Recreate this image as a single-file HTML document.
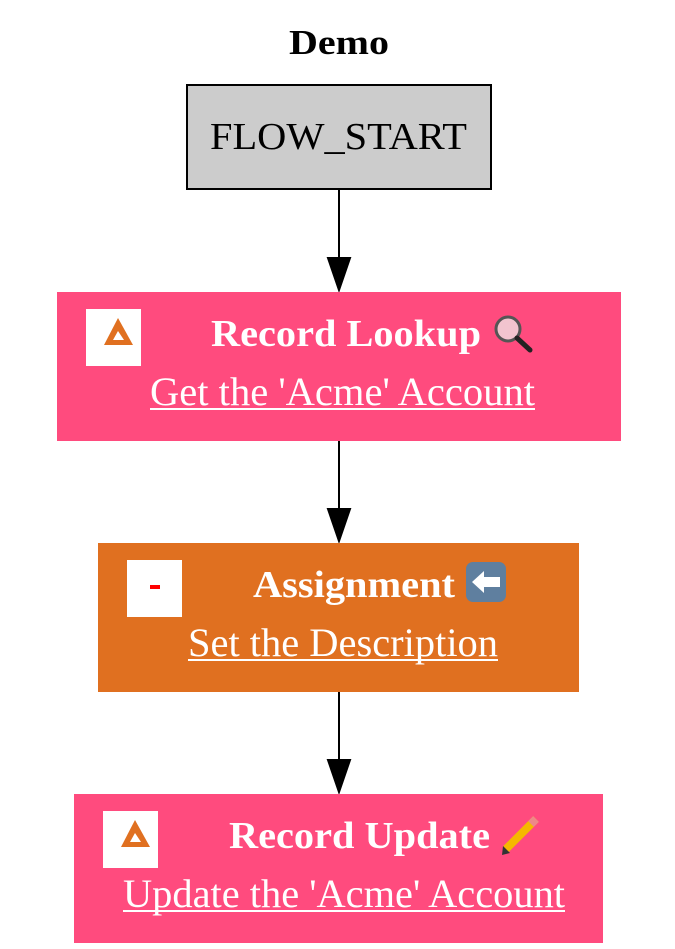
<!DOCTYPE html>
<html><head><meta charset="utf-8"><style>
html,body{margin:0;padding:0;background:#fff;}
svg{display:block;}
text{font-family:"Liberation Serif",serif;}
</style></head><body>
<svg width="675" height="949" viewBox="0 0 675 949" xmlns="http://www.w3.org/2000/svg">
<text x="339" y="54" font-size="35" font-weight="bold" text-anchor="middle" fill="#000" textLength="100" lengthAdjust="spacingAndGlyphs">Demo</text>
<rect x="187" y="85" width="304" height="104" fill="#cccccc" stroke="#000" stroke-width="2"/>
<text x="338.5" y="149" font-size="38" text-anchor="middle" textLength="257" lengthAdjust="spacingAndGlyphs" fill="#000">FLOW_START</text>

<line x1="339" y1="189" x2="339" y2="262" stroke="#000" stroke-width="2"/>
<polygon points="328,258 350,258 339,290" fill="#000" stroke="#000" stroke-width="2"/>
<line x1="339" y1="441" x2="339" y2="512" stroke="#000" stroke-width="2"/>
<polygon points="328,509 350,509 339,541" fill="#000" stroke="#000" stroke-width="2"/>
<line x1="339" y1="692" x2="339" y2="763" stroke="#000" stroke-width="2"/>
<polygon points="328,760 350,760 339,792" fill="#000" stroke="#000" stroke-width="2"/>

<rect x="57" y="292" width="564" height="149" fill="#ff4b7e"/>
<rect x="86" y="309" width="55" height="57" fill="#fff"/>
<polygon points="118,318 104,345 133,345" fill="#e07020"/>
<polygon points="118,331 113,340 124,340" fill="#fff"/>
<text x="211" y="346" font-size="38" font-weight="bold" fill="#fff" textLength="270" lengthAdjust="spacingAndGlyphs">Record Lookup</text>
<circle cx="508" cy="329" r="12" fill="#f2c4cf" stroke="#555" stroke-width="3"/>
<line x1="517" y1="338" x2="530" y2="350" stroke="#222" stroke-width="5" stroke-linecap="round"/>
<text x="150" y="405" font-size="40" fill="#fff" textLength="385" lengthAdjust="spacingAndGlyphs">Get the 'Acme' Account</text>
<rect x="150" y="408" width="385" height="2" fill="#fff"/>

<rect x="98" y="543" width="481" height="149" fill="#e07020"/>
<rect x="127" y="560" width="55" height="57" fill="#fff"/>
<rect x="150" y="585" width="10" height="4" fill="#f00"/>
<text x="253" y="597" font-size="38" font-weight="bold" fill="#fff" textLength="202" lengthAdjust="spacingAndGlyphs">Assignment</text>
<rect x="466" y="562" width="40" height="40" rx="7" fill="#5f7f9f"/>
<polygon points="472,582 484,571 484,577 500,577 500,587 484,587 484,593" fill="#fff"/>
<text x="188" y="656" font-size="40" fill="#fff" textLength="310" lengthAdjust="spacingAndGlyphs">Set the Description</text>
<rect x="188" y="659" width="310" height="2" fill="#fff"/>

<rect x="74" y="794" width="529" height="149" fill="#ff4b7e"/>
<rect x="103" y="811" width="55" height="57" fill="#fff"/>
<polygon points="135,820 121,847 150,847" fill="#e07020"/>
<polygon points="135,833 130,842 141,842" fill="#fff"/>
<text x="229" y="848" font-size="38" font-weight="bold" fill="#fff" textLength="261" lengthAdjust="spacingAndGlyphs">Record Update</text>
<line x1="536" y1="819" x2="506" y2="849" stroke="#f5b800" stroke-width="8"/>
<line x1="536" y1="819" x2="531" y2="824" stroke="#e88" stroke-width="8"/>
<polygon points="502,855 503,846 510,853" fill="#333"/>
<text x="123" y="907" font-size="40" fill="#fff" textLength="442" lengthAdjust="spacingAndGlyphs">Update the 'Acme' Account</text>
<rect x="123" y="910" width="442" height="2" fill="#fff"/>
</svg>
</body></html>
